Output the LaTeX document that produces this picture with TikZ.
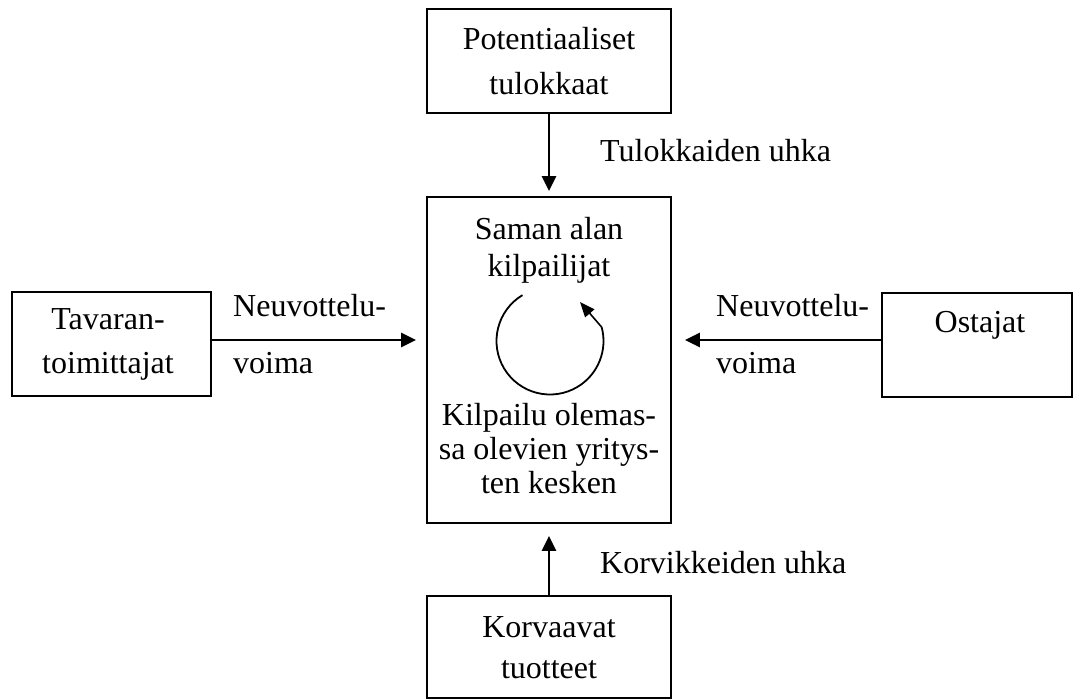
\documentclass[tikz,border=0pt]{standalone}
\usepackage{fontspec}
\setmainfont{Liberation Serif}
\usetikzlibrary{arrows.meta}
\begin{document}
\begin{tikzpicture}[x=1pt,y=-1pt,
  box/.style={draw, line width=1.8pt, inner sep=0pt},
  lbl/.style={font=\fontsize{32}{36}\selectfont, inner sep=0pt, anchor=base},
  side/.style={lbl, anchor=base west},
  flow/.style={line width=2.5pt, -{Triangle[length=15pt,width=14pt]}},
]
\useasboundingbox (0,0) rectangle (1081,700);

% the five forces
\node[box, minimum width=244pt, minimum height=104pt] (entrants)    at (549,61)    {};
\node[box, minimum width=244pt, minimum height=326pt] (rivals)      at (549,360)   {};
\node[box, minimum width=199pt, minimum height=104pt] (suppliers)   at (111.5,344) {};
\node[box, minimum width=190pt, minimum height=104pt] (buyers)      at (977,345)   {};
\node[box, minimum width=244pt, minimum height=102pt] (substitutes) at (549,647)   {};

% box texts
\node[lbl] (entrants-a) at (549,50) {Potentiaaliset};
\node[lbl] (entrants-b) at (549,95) {tulokkaat};
\node[lbl] (rivals-a) at (549,240) {Saman alan};
\node[lbl] (rivals-b) at (549,277) {kilpailijat};
\node[lbl] (rivalry-a) at (549,425) {Kilpailu olemas-};
\node[lbl] (rivalry-b) at (549,459) {sa olevien yritys-};
\node[lbl] (rivalry-c) at (549,493) {ten kesken};
\node[lbl] (suppliers-a) at (108,330) {Tavaran-};
\node[lbl] (suppliers-b) at (108,373) {toimittajat};
\node[lbl] (buyers-a) at (980,333) {Ostajat};
\node[lbl] (substitutes-a) at (549,637) {Korvaavat};
\node[lbl] (substitutes-b) at (549,678) {tuotteet};

% connector labels
\node[side] (threat-new) at (600,162) {Tulokkaiden uhka};
\node[side] (threat-sub) at (600,573) {Korvikkeiden uhka};
\node[side] (power-sup-a) at (233,317) {Neuvottelu-};
\node[side] (power-sup-b) at (233,373) {voima};
\node[side] (power-buy-a) at (716,317) {Neuvottelu-};
\node[side] (power-buy-b) at (716,373) {voima};

% connectors
\coordinate (mid-row) at (0,340);
\draw[flow, shorten >=5pt] (entrants.south) -- (rivals.north);
\draw[flow, shorten >=12pt] (substitutes.north) -- (rivals.south);
\draw[flow, shorten >=10pt] (suppliers.east |- mid-row) -- (rivals.west |- mid-row);
\draw[flow, shorten >=13pt] (buyers.west |- mid-row) -- (rivals.east |- mid-row);

% rivalry cycle
\coordinate (spin-tip) at (580,302);
\draw[line width=1.8pt] (550,341) ++(-121:53.5) arc[start angle=-121, end angle=-375, radius=53.5]
  coordinate (spin-end);
\draw[line width=1.6pt, -{Triangle[length=15pt,width=12pt]}] (spin-end) -- (spin-tip);
\end{tikzpicture}
\end{document}
